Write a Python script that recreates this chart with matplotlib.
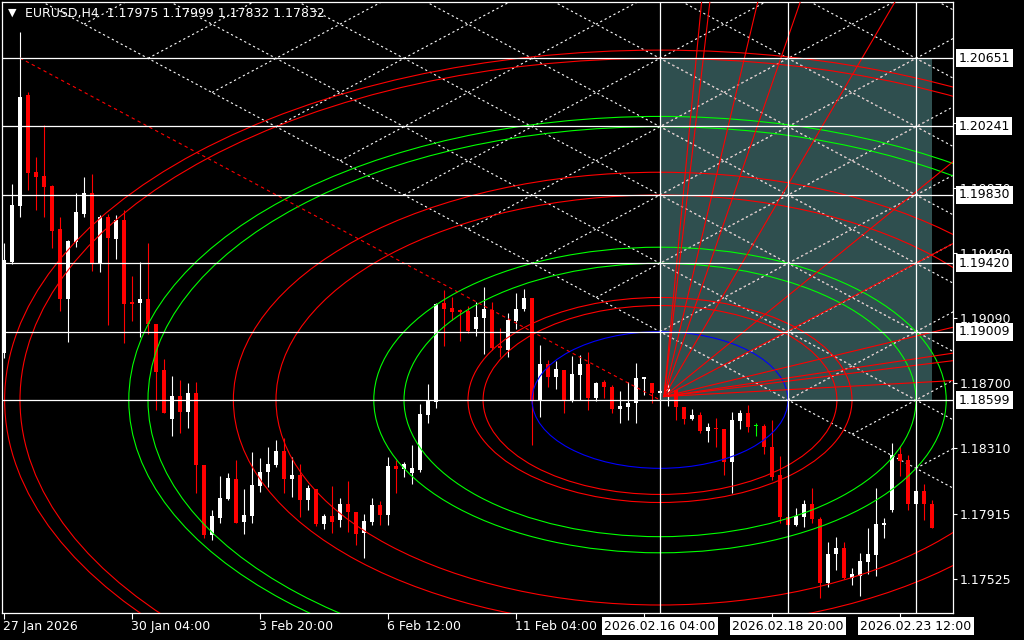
import matplotlib
matplotlib.use('Agg')
import matplotlib.pyplot as plt
import numpy as np
from matplotlib.patches import Ellipse, Rectangle
from matplotlib.transforms import blended_transform_factory

# --- EURUSD H4 candles (bar index 0 = 27 Jan 2026 12:00) ---
opens = [
    1.18881, 1.19427, 1.19763, 1.20429, 1.19967, 1.19943, 1.19883, 1.19625, 1.19205, 1.19547,
    1.19715, 1.19841, 1.19415, 1.19697, 1.19565, 1.19679, 1.19187, 1.19181, 1.19205, 1.19055,
    1.18779, 1.18485, 1.18623, 1.18527, 1.18641, 1.18209, 1.17789, 1.17891, 1.18005, 1.18125,
    1.17867, 1.17903, 1.18083, 1.18167, 1.18209, 1.18293, 1.18125, 1.18149, 1.17999, 1.18065,
    1.17855, 1.17903, 1.17879, 1.17975, 1.17927, 1.17801, 1.17867, 1.17969, 1.17909, 1.18203,
    1.18185, 1.18161, 1.18179, 1.18509, 1.18587, 1.19181, 1.19151, 1.19139, 1.19133, 1.19025,
    1.19091, 1.19139, 1.18923, 1.18899, 1.19073, 1.19145, 1.19211, 1.18599, 1.18815, 1.18737,
    1.18779, 1.18593, 1.18749, 1.18815, 1.18611, 1.18707, 1.18677, 1.18545, 1.18557, 1.18581,
    1.18725, 1.18701, 1.18641, 1.18653, 1.18659, 1.18557, 1.18485, 1.18509, 1.18413, 1.18431,
    1.18425, 1.18227, 1.18473, 1.18521, 1.18443, 1.18443, 1.18317, 1.18149, 1.17897, 1.17849,
    1.17897, 1.17975, 1.17885, 1.17501, 1.17675, 1.17711, 1.17531, 1.17543, 1.17627, 1.17669,
    1.17849, 1.17939, 1.18275, 1.18239, 1.17975, 1.18053, 1.17975]
highs = [
    1.19541, 1.19895, 1.20807, 1.20447, 1.20057, 1.20249, 1.19889, 1.19697, 1.19559, 1.19841,
    1.19937, 1.19955, 1.19709, 1.19715, 1.19709, 1.19739, 1.19343, 1.19427, 1.19541, 1.19055,
    1.18845, 1.18743, 1.18719, 1.18701, 1.18707, 1.18209, 1.17939, 1.18143, 1.18161, 1.18239,
    1.18065, 1.18287, 1.18251, 1.18317, 1.18359, 1.18371, 1.18257, 1.18215, 1.18089, 1.18065,
    1.17915, 1.18083, 1.18011, 1.18113, 1.17927, 1.17915, 1.18011, 1.17993, 1.18257, 1.18239,
    1.18227, 1.18329, 1.18575, 1.18695, 1.19181, 1.19259, 1.19217, 1.19145, 1.19163, 1.19187,
    1.19277, 1.19187, 1.19031, 1.19121, 1.19241, 1.19265, 1.19211, 1.18929, 1.18839, 1.18833,
    1.18779, 1.18863, 1.18869, 1.18887, 1.18707, 1.18719, 1.18689, 1.18653, 1.18707, 1.18821,
    1.18737, 1.18701, 1.18665, 1.18695, 1.18659, 1.18557, 1.18545, 1.18527, 1.18461, 1.18491,
    1.18425, 1.18527, 1.18539, 1.18569, 1.18461, 1.18455, 1.18479, 1.18263, 1.17897, 1.17951,
    1.17999, 1.18071, 1.17897, 1.17747, 1.17777, 1.17747, 1.17591, 1.17681, 1.17831, 1.18071,
    1.17891, 1.18341, 1.18323, 1.18269, 1.18053, 1.18095, 1.17999]
lows = [
    1.18851, 1.19415, 1.19697, 1.19859, 1.19739, 1.19697, 1.19511, 1.19133, 1.18947, 1.19517,
    1.19697, 1.19373, 1.19367, 1.19049, 1.19445, 1.18941, 1.19073, 1.18977, 1.18995, 1.18539,
    1.18521, 1.18383, 1.18401, 1.18431, 1.18041, 1.17771, 1.17759, 1.17861, 1.17999, 1.17861,
    1.17795, 1.17861, 1.18047, 1.18077, 1.18197, 1.18041, 1.18017, 1.17897, 1.17939, 1.17843,
    1.17825, 1.17801, 1.17837, 1.17807, 1.17729, 1.17651, 1.17849, 1.17849, 1.17849, 1.18041,
    1.18137, 1.18095, 1.18167, 1.18461, 1.18551, 1.18923, 1.19079, 1.18953, 1.19001, 1.18983,
    1.18875, 1.18899, 1.18857, 1.18857, 1.19025, 1.19133, 1.18329, 1.18497, 1.18677, 1.18665,
    1.18521, 1.18587, 1.18599, 1.18539, 1.18593, 1.18611, 1.18521, 1.18461, 1.18479, 1.18461,
    1.18629, 1.18581, 1.18623, 1.18563, 1.18479, 1.18455, 1.18479, 1.18401, 1.18347, 1.18317,
    1.18149, 1.18041, 1.18425, 1.18407, 1.18383, 1.18275, 1.18119, 1.17861, 1.17843, 1.17843,
    1.17837, 1.17861, 1.17411, 1.17477, 1.17579, 1.17525, 1.17489, 1.17423, 1.17555, 1.17543,
    1.17771, 1.17927, 1.18143, 1.17939, 1.17975, 1.17879, 1.17832]
closes = [
    1.19439, 1.19769, 1.20417, 1.19961, 1.19937, 1.19877, 1.19613, 1.19205, 1.19553, 1.19727,
    1.19841, 1.19415, 1.19697, 1.19571, 1.19679, 1.19175, 1.19175, 1.19205, 1.19055, 1.18767,
    1.18521, 1.18623, 1.18527, 1.18641, 1.18209, 1.17789, 1.17903, 1.18011, 1.18131, 1.17861,
    1.17909, 1.18089, 1.18167, 1.18215, 1.18293, 1.18125, 1.18149, 1.17999, 1.18071, 1.17855,
    1.17903, 1.17867, 1.17975, 1.17927, 1.17795, 1.17873, 1.17969, 1.17909, 1.18203, 1.18185,
    1.18215, 1.18191, 1.18515, 1.18593, 1.19175, 1.19145, 1.19127, 1.19127, 1.19013, 1.19097,
    1.19145, 1.18911, 1.18911, 1.19079, 1.19145, 1.19211, 1.18599, 1.18815, 1.18737, 1.18785,
    1.18599, 1.18755, 1.18815, 1.18611, 1.18701, 1.18677, 1.18545, 1.18563, 1.18581, 1.18731,
    1.18737, 1.18641, 1.18653, 1.18665, 1.18557, 1.18485, 1.18509, 1.18413, 1.18437, 1.18425,
    1.18227, 1.18479, 1.18521, 1.18437, 1.18443, 1.18317, 1.18137, 1.17897, 1.17849, 1.17903,
    1.17975, 1.17885, 1.17501, 1.17675, 1.17711, 1.17531, 1.17555, 1.17633, 1.17675, 1.17855,
    1.17861, 1.18269, 1.18233, 1.17975, 1.18053, 1.17975, 1.17832]

# horizontal levels (labelled on the price scale) and vertical time lines
h_levels = [1.20651, 1.20241, 1.19830, 1.19420, 1.19009, 1.18599]
v_bars = [82, 98, 114]
v_labels = ['2026.02.16 04:00', '2026.02.18 20:00', '2026.02.23 12:00']

# time scale (labels under the highlighted boxes are hidden in the original)
tick_bars = [0, 16, 32, 48, 64, 80, 96, 112]
tick_labels = ['27 Jan 2026', '30 Jan 04:00', '3 Feb 20:00', '6 Feb 12:00',
               '11 Feb 04:00', '', '', '']
price_ticks = [1.20260, 1.19870, 1.19480, 1.19090, 1.18700, 1.18310, 1.17915, 1.17525]

# fibo arcs (full ellipses) around the pivot
pivot_bar, pivot_price = 82, 1.18599
unit_bars, unit_price = 16, 0.0041
arc_levels = [1.0, 1.382, 1.5, 2.0, 2.236, 3.0, 3.333, 4.0, 4.15, 5.0, 5.12]
arc_colors = ['#0000ff', '#ff0000', '#ff0000', '#00ff00', '#00ff00', '#ff0000',
              '#ff0000', '#00ff00', '#00ff00', '#ff0000', '#ff0000']

# fan lines from the pivot (price change per bar)
fan_origin = (82.5, 1.18620)
fan_slopes = [0.00504, 0.00413, 0.00202, 0.00139, 0.00082, 0.00039,
              0.000254, 0.000115, 0.000072, 0.0000595, 0.0000264]

# trend line of the arcs
trend_bars = [2, 82]
trend_prices = [1.20651, 1.18599]

# rectangle
rect_bars = (82, 116)
rect_prices = (1.18599, 1.20651)

# gann grid anchor
grid_anchor = (98, 1.18599)

RED = '#ff0000'
W = 1024
H = 640
fig = plt.figure(figsize=(W / 100, H / 100), dpi=100, facecolor='black')
ax = fig.add_axes([2 / W, 27 / H, 951 / W, 611 / H])
ax.set_facecolor('black')
ax.set_xlim(-0.25, 118.625)
ax.set_ylim(1.17321, 1.20987)

rect = Rectangle((rect_bars[0], rect_prices[0]), rect_bars[1] - rect_bars[0],
                 rect_prices[1] - rect_prices[0], fc='#2f4f4f', ec='none', zorder=0.5)
ax.add_patch(rect)

# gann grid (dotted), only above the lowest falling line
s = unit_price / unit_bars
c0 = grid_anchor[1] + s * grid_anchor[0]
d0 = grid_anchor[1] - s * grid_anchor[0]
xs = np.array([-2.0, 125.0])
segs = []
for n in range(0, 11):
    c = c0 + unit_price * n
    segs.append((xs, c - s * xs))
for m in range(-3, 14):
    d = d0 + unit_price * m
    i0 = (c0 - d) / (2 * s)
    xx = np.array([i0, 125.0])
    segs.append((xx, d + s * xx))
for xx, yy in segs:
    ax.plot(xx, yy, color='white', lw=0.8, ls=(0, (2, 2.5)), zorder=1)
    ln, = ax.plot(xx, yy, color='#d2bcbc', lw=0.8, ls=(0, (2, 2.5)), zorder=1.1)
    ln.set_clip_path(rect)

# candles
idx = np.arange(len(opens))
o = np.array(opens)
c = np.array(closes)
cols = ['#ffffff' if cc > oo else (RED if cc < oo else '#00ff00') for oo, cc in zip(o, c)]
ax.vlines(idx, lows, highs, colors=cols, lw=0.8, zorder=2)
body = np.maximum(np.abs(c - o), 0.00005)
ax.bar(idx, body, bottom=np.minimum(o, c), width=0.62, color=cols, lw=0, zorder=2.1)

# arcs
for lvl, col in zip(arc_levels, arc_colors):
    ax.add_patch(Ellipse((pivot_bar, pivot_price), 2 * lvl * unit_bars, 2 * lvl * unit_price,
                         fill=False, ec=col, lw=0.8, zorder=4))

# fan
for k in fan_slopes:
    ax.plot([fan_origin[0], 130], [fan_origin[1], fan_origin[1] + k * (130 - fan_origin[0])],
            color=RED, lw=0.8, zorder=4)

ax.plot(trend_bars, trend_prices, color=RED, lw=0.8, ls=(0, (3, 3)), zorder=4)

for p in h_levels:
    ax.axhline(p, color='white', lw=0.9, zorder=5)
for b in v_bars:
    ax.axvline(b, color='white', lw=0.9, zorder=5)

# axes styling
for sp in ax.spines.values():
    sp.set_color('white')
    sp.set_linewidth(0.9)
ax.yaxis.tick_right()
ax.set_yticks(price_ticks)
ax.set_yticklabels([f'{p:.5f}' for p in price_ticks])
ax.set_xticks(tick_bars)
ax.set_xticklabels([])
ax.tick_params(axis='y', colors='white', labelsize=9, length=3, width=0.8, pad=2)
ax.tick_params(axis='x', colors='white', length=4, width=0.8)

ty = blended_transform_factory(ax.transAxes, ax.transData)
for p in h_levels:
    ax.text(1.0058, p, f'{p:.5f}', transform=ty, color='black', fontsize=9,
            ha='left', va='center', clip_on=False, zorder=10,
            bbox=dict(boxstyle='square,pad=0.2', fc='white', ec='none'))

tx = blended_transform_factory(ax.transData, ax.transAxes)
for b, lab in zip(tick_bars, tick_labels):
    if lab:
        ax.text(b - 0.1, -0.0215, lab, transform=tx, color='white', fontsize=9,
                ha='left', va='center', clip_on=False, zorder=8)
for b, lab in zip(v_bars, v_labels):
    ax.text(b, -0.0215, lab, transform=tx, color='black', fontsize=9,
            ha='center', va='center', clip_on=False, zorder=10,
            bbox=dict(boxstyle='square,pad=0.2', fc='white', ec='none'))

fig.text(8 / W, 1 - 13 / H, '\u25bc', color='white', fontsize=8, va='center', ha='left')
fig.text(25 / W, 1 - 13 / H, 'EURUSD,H4  1.17975 1.17999 1.17832 1.17832',
         color='white', fontsize=9, va='center', ha='left')

fig.savefig('out.png', dpi=100, facecolor='black')
